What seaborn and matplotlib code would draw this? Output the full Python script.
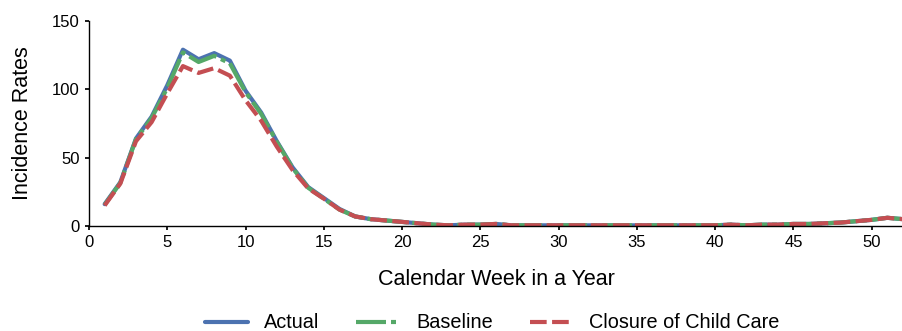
import numpy as np
import pandas as pd
import matplotlib
matplotlib.use("Agg")
import matplotlib.pyplot as plt
import seaborn as sns
from matplotlib.lines import Line2D

weeks = list(range(1, 53))
actual = [16, 32, 64, 80, 103, 129, 122, 126.5, 121, 99, 83, 62, 43, 28.5, 20.5, 12.5, 7, 5, 4, 3,
          2, 1, 0.5, 1, 1, 1.5, 0.5, 0.5, 0.5, 0.5, 0.5, 0.5, 0.5, 0.5, 0.5, 0.5, 0.5, 0.5, 0.5, 0.5,
          1, 0.5, 1, 1, 1.5, 1.5, 2, 2.5, 3.5, 4.5, 6, 5]
baseline = [15.5, 31.5, 63.5, 79, 101, 127, 120, 124.5, 119, 98, 82, 61.5, 42.5, 28, 20, 12, 7, 5, 4, 3,
            2, 1, 0.5, 1, 1, 1.5, 0.5, 0.5, 0.5, 0.5, 0.5, 0.5, 0.5, 0.5, 0.5, 0.5, 0.5, 0.5, 0.5, 0.5,
            1, 0.5, 1, 1, 1.5, 1.5, 2, 2.5, 3.5, 4.5, 6, 5]
closure = [15, 31, 62, 76, 97, 117, 112, 115.5, 110, 92, 77, 58, 41, 27.5, 20, 12, 7, 5, 4, 3,
           2, 1, 0.5, 1, 1, 1.5, 0.5, 0.5, 0.5, 0.5, 0.5, 0.5, 0.5, 0.5, 0.5, 0.5, 0.5, 0.5, 0.5, 0.5,
           1, 0.5, 1, 1, 1.5, 1.5, 2, 2.5, 3.5, 4.5, 6, 5]
series_names = ["Actual", "Baseline", "Closure of Child Care"]
colors = ["#4C72B0", "#55A868", "#C44E52"]

sns.set_theme(style="white")
plt.rcParams['font.family'] = ['Liberation Sans', 'DejaVu Sans']
plt.rcParams['text.color'] = 'black'
plt.rcParams['axes.labelcolor'] = 'black'
plt.rcParams['xtick.color'] = 'black'
plt.rcParams['ytick.color'] = 'black'

df = pd.DataFrame({
    "week": weeks * 3,
    "value": actual + baseline + closure,
    "series": [series_names[0]] * 52 + [series_names[1]] * 52 + [series_names[2]] * 52,
})

green_dash = (7.2, 1.2, 1.2, 1.2)
red_dash = (4.0, 1.3)

fig = plt.figure(figsize=(9.03, 3.31), dpi=100)
ax = fig.add_axes([89 / 903, 1 - 226 / 331, 1 - 89 / 903, 205 / 331])

sns.lineplot(data=df, x="week", y="value", hue="series", style="series",
             palette=colors, dashes=[(None, None), green_dash, red_dash],
             linewidth=3, ax=ax, legend=False)

lines = ax.get_lines()
lines[0].set_linestyle('-')
lines[1].set_dashes(green_dash)
lines[2].set_dashes(red_dash)

ax.set_xlim(0, 52)
ax.set_ylim(0, 150)
ax.set_xticks(range(0, 51, 5))
ax.set_yticks([0, 50, 100, 150])
ax.tick_params(axis='both', labelsize=12, length=3, color='black', direction='out')
ax.tick_params(axis='x', bottom=True)
ax.tick_params(axis='y', left=True)
ax.set_xlabel("Calendar Week in a Year", fontsize=15.5, labelpad=14)
ax.set_ylabel("Incidence Rates", fontsize=15.5, labelpad=14)
sns.despine(ax=ax)
for s in ["left", "bottom"]:
    ax.spines[s].set_color("black")
    ax.spines[s].set_linewidth(1)

handles = [Line2D([], [], color=colors[0], lw=3, ls='-'),
           Line2D([], [], color=colors[1], lw=3, dashes=green_dash),
           Line2D([], [], color=colors[2], lw=3, dashes=red_dash)]
fig.legend(handles, series_names, loc='center', ncol=3, frameon=False,
           fontsize=14.3, bbox_to_anchor=(0.545, 1 - 323 / 331), handlelength=2.2,
           handletextpad=0.8, columnspacing=1.85, borderpad=0, borderaxespad=0)

fig.savefig("out.png", dpi=100)
